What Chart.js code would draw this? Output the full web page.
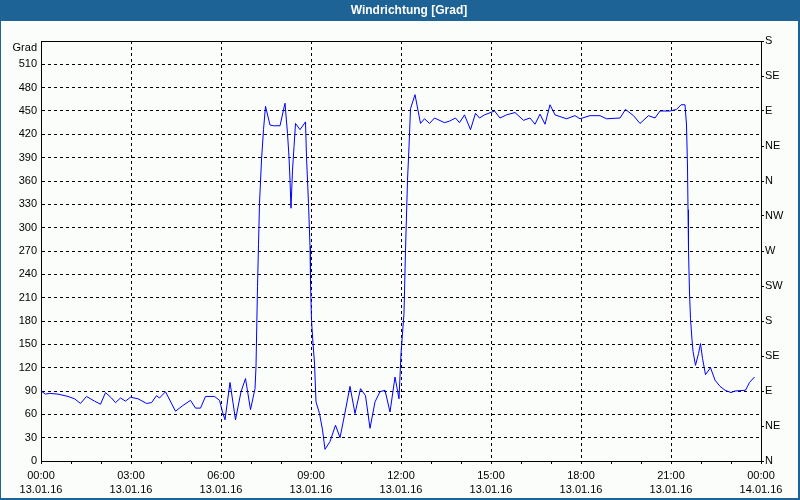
<!DOCTYPE html>
<html>
<head>
<meta charset="utf-8">
<title>Windrichtung [Grad]</title>
<script src="https://cdn.jsdelivr.net/npm/chart.js@4/dist/chart.umd.min.js"></script>
<style>
  html, body { margin: 0; padding: 0; background: #fbfdfb; }
  canvas { display: block; }
</style>
</head>
<body>
<canvas id="windChart" width="800" height="500"></canvas>
<script>
'use strict';

// ─── Data ─────────────────────────────────────────────────────────────────────

const chartTitle = 'Windrichtung [Grad]';

// minutes since 13.01.16 00:00
const minutes = [
  0, 9, 17, 34, 54, 67, 79, 91, 107, 119, 129, 141, 149, 159, 169, 179, 194, 211, 221, 231,
  237, 249, 269, 283, 299, 309, 319, 329, 347, 357, 363, 368, 378, 389, 400, 409, 419, 428, 430, 433,
  435, 437, 441, 445, 449, 458, 465, 478, 488, 493, 496, 498, 500, 503, 506, 509, 518, 529, 531, 535,
  538, 539, 541, 544, 547, 550, 557, 563, 568, 578, 589, 598, 607, 618, 628, 639, 649, 658, 668, 678,
  688, 698, 708, 716, 720, 726, 729, 733, 736, 739, 748, 759, 767, 777, 787, 807, 817, 829, 837, 847,
  859, 869, 877, 887, 907, 918, 931, 948, 965, 978, 988, 998, 1008, 1018, 1028, 1051, 1068, 1078, 1098, 1118,
  1131, 1158, 1169, 1185, 1198, 1215, 1228, 1238, 1258, 1271, 1280, 1288, 1291, 1293, 1294, 1295, 1297, 1299, 1302, 1304,
  1309, 1315, 1319, 1323, 1329, 1339, 1348, 1358, 1368, 1380, 1388, 1409, 1417, 1427
];

const degrees = [
  90, 86, 87, 86, 83, 80, 74, 83, 77, 73, 88, 81, 75, 81, 77, 82, 80, 74, 75, 84,
  81, 89, 64, 71, 78, 68, 68, 83, 83, 78, 63, 53, 101, 53, 89, 106, 66, 93, 121, 224,
  278, 331, 387, 426, 456, 432, 431, 431, 460, 421, 391, 361, 325, 374, 404, 434, 426, 436, 391, 331,
  276, 228, 181, 151, 126, 76, 61, 40, 15, 25, 46, 30, 59, 96, 61, 93, 84, 42, 76, 89,
  91, 63, 108, 80, 138, 190, 271, 361, 404, 453, 471, 434, 440, 434, 441, 435, 437, 441, 435, 445,
  426, 447, 441, 445, 450, 441, 445, 448, 438, 441, 433, 446, 433, 458, 445, 440, 444, 440, 444, 444,
  440, 441, 452, 444, 434, 444, 441, 450, 450, 452, 458, 458, 432, 378, 323, 271, 216, 183, 156, 141,
  123, 138, 151, 132, 111, 120, 104, 96, 91, 88, 90, 91, 101, 108
];

const timeTicks = ['00:00', '03:00', '06:00', '09:00', '12:00', '15:00', '18:00', '21:00', '00:00'];
const dateTicks = ['13.01.16', '13.01.16', '13.01.16', '13.01.16', '13.01.16', '13.01.16', '13.01.16', '13.01.16', '14.01.16'];
const compassTicks = ['N', 'NE', 'E', 'SE', 'S', 'SW', 'W', 'NW'];
const unitLabel = 'Grad';

// ─── Frame: background, title bar, borders ────────────────────────────────────

const framePlugin = {
  id: 'frame',
  beforeDraw(chart) {
    const { ctx, width, height } = chart;
    ctx.save();
    ctx.fillStyle = '#fbfdfb';
    ctx.fillRect(0, 0, width, height);
    ctx.fillStyle = '#1d6396';
    ctx.fillRect(0, 0, width, 21);
    ctx.fillStyle = '#ffffff';
    ctx.font = 'bold 12px "Liberation Sans", Arial, sans-serif';
    ctx.textAlign = 'center';
    ctx.textBaseline = 'middle';
    ctx.fillText(chartTitle, 409, 11);
    ctx.restore();
  },
  afterDraw(chart) {
    const { ctx, width, height, chartArea: a } = chart;
    ctx.save();
    ctx.strokeStyle = '#000000';
    ctx.lineWidth = 1;
    ctx.beginPath();
    ctx.moveTo(a.left, a.top + 0.5);
    ctx.lineTo(a.right + 1, a.top + 0.5);
    ctx.stroke();
    ctx.fillStyle = '#1d6396';
    ctx.fillRect(0, 0, 1, height);
    ctx.fillRect(width - 2, 0, 2, height);
    ctx.fillRect(0, height - 2, width, 2);
    ctx.restore();
  }
};

// ─── Chart ────────────────────────────────────────────────────────────────────

const tickFont = { family: '"Liberation Sans", Arial, sans-serif', size: 11 };

new Chart(document.getElementById('windChart'), {
  type: 'line',
  data: {
    datasets: [{
      label: chartTitle,
      data: minutes.map((m, i) => ({ x: m, y: degrees[i] })),
      borderColor: '#0000ff',
      borderWidth: 1,
      pointRadius: 0,
      tension: 0,
      fill: false,
    }],
  },
  options: {
    responsive: false,
    animation: false,
    layout: { padding: { top: 41, left: 0, right: 0, bottom: 0 } },
    plugins: {
      legend: { display: false },
      tooltip: { enabled: false },
    },
    scales: {
      x: {
        type: 'linear',
        min: 0,
        max: 1440,
        afterFit: (s) => { s.height = 39; },
        afterBuildTicks: (s) => {
          s.ticks = Array.from({ length: 25 }, (_, i) => ({ value: i * 60 }));
        },
        grid: {
          color: (c) => (c.tick && c.tick.value % 180 === 0 ? '#000000' : 'rgba(0,0,0,0)'),
          tickColor: '#000000',
          tickLength: 3,
          tickBorderDash: [],
        },
        border: { display: true, color: '#000000', width: 1, dash: [3, 3] },
        ticks: {
          autoSkip: false,
          maxRotation: 0,
          padding: 4,
          color: '#000000',
          font: { ...tickFont, lineHeight: 1.36 },
          callback: (v) => {
            if (v % 180 !== 0) return '';
            const i = v / 180;
            return [timeTicks[i], dateTicks[i]];
          },
        },
      },
      y: {
        position: 'left',
        min: 0,
        max: 540,
        afterFit: (s) => { s.width = 41; },
        grid: { color: '#000000', drawTicks: false },
        border: { display: true, color: '#000000', width: 1, dash: [3, 3] },
        ticks: {
          stepSize: 30,
          autoSkip: false,
          padding: 4,
          color: '#000000',
          font: tickFont,
          callback: (v) => (v === 540 ? ['', unitLabel] : String(v)),
        },
      },
      y2: {
        position: 'right',
        min: 0,
        max: 540,
        afterFit: (s) => { s.width = 39; },
        grid: { drawOnChartArea: false, drawTicks: true, tickLength: 3, tickColor: '#000000' },
        border: { display: true, color: '#000000', width: 1 },
        ticks: {
          stepSize: 45,
          autoSkip: false,
          padding: 1,
          color: '#000000',
          font: tickFont,
          callback: (v) => compassTicks[Math.round(v / 45) % 8],
        },
      },
    },
  },
  plugins: [framePlugin],
});
</script>
</body>
</html>
